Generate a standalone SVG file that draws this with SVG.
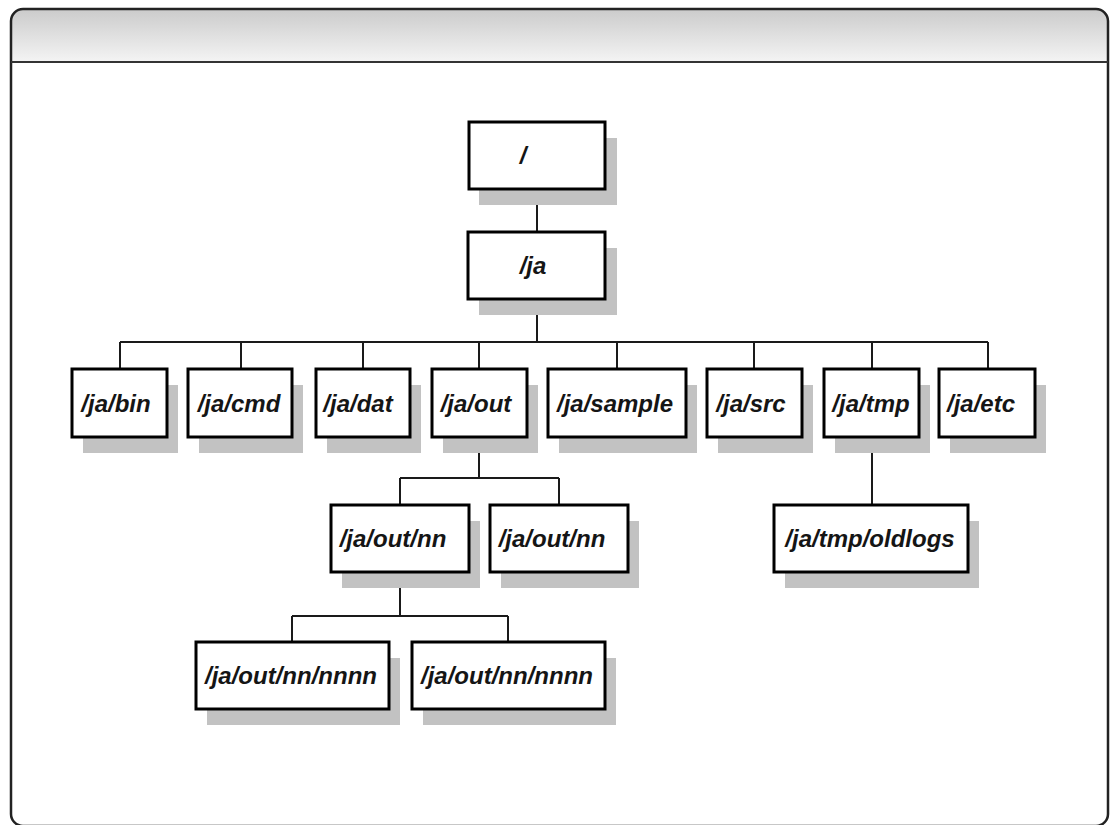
<svg xmlns="http://www.w3.org/2000/svg" width="1110" height="825" viewBox="0 0 1110 825">
<defs>
<linearGradient id="hdr" x1="0" y1="0" x2="0" y2="1">
<stop offset="0" stop-color="#cbcbcb"/>
<stop offset="1" stop-color="#f4f4f4"/>
</linearGradient>
<style>
.box{fill:#fff;stroke:#000;stroke-width:3}
.shd{fill:#c2c2c2}
.lbl{font-family:"Liberation Sans",Arial,sans-serif;font-weight:bold;font-style:italic;font-size:24px;fill:#151515;text-anchor:middle}
.con{fill:none;stroke:#1a1a1a;stroke-width:2}
</style>
</defs>
<rect width="1110" height="825" fill="#fff"/>
<g id="frame">
<path d="M11,62 V21 Q11,9 23,9 H1096 Q1108,9 1108,21 V62 Z" fill="url(#hdr)"/>
<rect x="11" y="9" width="1097" height="817" rx="12" fill="none" stroke="#222" stroke-width="2.5"/>
<line x1="11" y1="62" x2="1108" y2="62" stroke="#333" stroke-width="2"/>
</g>
<g id="connectors">
<path class="con" d="M537,189 V232 M537,299 V342 M120,342 H988 M120,342 V369 M241,342 V369 M363,342 V369 M479,342 V369 M617,342 V369 M754,342 V369 M872,342 V369 M988,342 V369"/>
<path class="con" d="M479,437 V478 M400,478 H559 M400,478 V505 M559,478 V505"/>
<path class="con" d="M872,437 V505"/>
<path class="con" d="M400,572 V616 M292,616 H508 M292,616 V642 M508,616 V642"/>
</g>
<g id="n-root"><rect class="shd" x="479" y="138" width="138" height="67"/><rect class="box" x="469" y="122" width="136" height="67"/><text class="lbl" x="523" y="164">/</text></g>
<g id="n-ja"><rect class="shd" x="479" y="248" width="138" height="67"/><rect class="box" x="468" y="232" width="137" height="67"/><text class="lbl" x="533" y="274">/ja</text></g>
<g id="n-bin"><rect class="shd" x="83" y="385" width="95" height="68"/><rect class="box" x="72" y="369" width="95" height="68"/><text class="lbl" x="116" y="412">/ja/bin</text></g>
<g id="n-cmd"><rect class="shd" x="199" y="385" width="104" height="68"/><rect class="box" x="188" y="369" width="104" height="68"/><text class="lbl" x="239" y="412">/ja/cmd</text></g>
<g id="n-dat"><rect class="shd" x="327" y="385" width="94" height="68"/><rect class="box" x="316" y="369" width="94" height="68"/><text class="lbl" x="358" y="412">/ja/dat</text></g>
<g id="n-out"><rect class="shd" x="443" y="385" width="95" height="68"/><rect class="box" x="432" y="369" width="95" height="68"/><text class="lbl" x="476" y="412">/ja/out</text></g>
<g id="n-sample"><rect class="shd" x="559" y="385" width="138" height="68"/><rect class="box" x="548" y="369" width="138" height="68"/><text class="lbl" x="615" y="412">/ja/sample</text></g>
<g id="n-src"><rect class="shd" x="718" y="385" width="95" height="68"/><rect class="box" x="707" y="369" width="95" height="68"/><text class="lbl" x="751" y="412">/ja/src</text></g>
<g id="n-tmp"><rect class="shd" x="835" y="385" width="95" height="68"/><rect class="box" x="824" y="369" width="95" height="68"/><text class="lbl" x="871" y="412">/ja/tmp</text></g>
<g id="n-etc"><rect class="shd" x="950" y="385" width="96" height="68"/><rect class="box" x="939" y="369" width="96" height="68"/><text class="lbl" x="981" y="412">/ja/etc</text></g>
<g id="n-outnn1"><rect class="shd" x="342" y="521" width="138" height="67"/><rect class="box" x="331" y="505" width="138" height="67"/><text class="lbl" x="393" y="547">/ja/out/nn</text></g>
<g id="n-outnn2"><rect class="shd" x="501" y="521" width="138" height="67"/><rect class="box" x="490" y="505" width="138" height="67"/><text class="lbl" x="552" y="547">/ja/out/nn</text></g>
<g id="n-oldlogs"><rect class="shd" x="785" y="521" width="194" height="67"/><rect class="box" x="774" y="505" width="194" height="67"/><text class="lbl" x="870" y="547">/ja/tmp/oldlogs</text></g>
<g id="n-nnnn1"><rect class="shd" x="207" y="658" width="193" height="67"/><rect class="box" x="196" y="642" width="193" height="67"/><text class="lbl" x="291" y="684">/ja/out/nn/nnnn</text></g>
<g id="n-nnnn2"><rect class="shd" x="423" y="658" width="193" height="67"/><rect class="box" x="412" y="642" width="193" height="67"/><text class="lbl" x="507" y="684">/ja/out/nn/nnnn</text></g>
</svg>
